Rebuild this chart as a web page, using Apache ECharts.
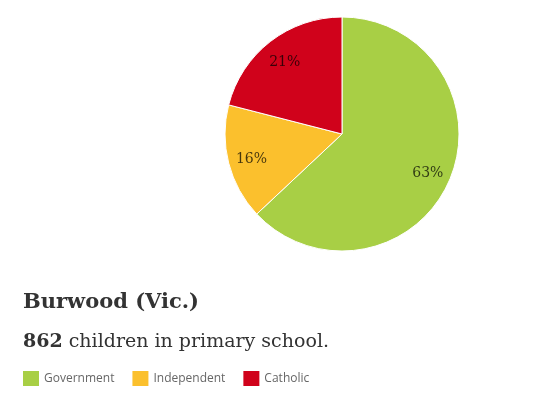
<!DOCTYPE html>
<html>
<head>
<meta charset="utf-8">
<script src="https://cdn.jsdelivr.net/npm/echarts@6/dist/echarts.min.js"></script>
<style>
html,body{margin:0;padding:0;background:#fff;}
#chart{width:554px;height:397px;}
</style>
</head>
<body>
<div id="chart"></div>
<script>
const categories = ['Government', 'Independent', 'Catholic'];
const shares = [63, 16, 21];
const colors = ['#a8cf45', '#fbc02d', '#d0021b'];
const titleText = 'Burwood (Vic.)';
const childCount = 862;
const subtitleRest = ' children in primary school.';

const pieData = categories.map((c, i) => ({ name: c, value: shares[i], itemStyle: { color: colors[i] } }));

const chart = echarts.init(document.getElementById('chart'), null, { renderer: 'canvas' });
chart.setOption({
  animation: false,
  backgroundColor: '#fff',
  title: [
    {
      text: titleText,
      left: 23,
      top: 292,
      padding: 0,
      textStyle: { fontFamily: 'DejaVu Serif', fontWeight: 'bold', fontSize: 21, color: '#333' }
    },
    {
      text: '{b|' + childCount + '}{r|' + subtitleRest + '}',
      left: 23,
      top: 333,
      padding: 0,
      textStyle: {
        fontWeight: 'normal',
        rich: {
          b: { fontFamily: 'DejaVu Serif', fontWeight: 'bold', fontSize: 19, color: '#333' },
          r: { fontFamily: 'DejaVu Serif', fontWeight: 'normal', fontSize: 19, color: '#333' }
        }
      }
    }
  ],
  legend: {
    data: categories,
    left: 23,
    top: 371,
    padding: 0,
    icon: 'rect',
    itemWidth: 16,
    itemHeight: 15,
    itemGap: 18,
    itemStyle: { borderWidth: 0 },
    textStyle: { fontFamily: 'Open Sans', fontSize: 12, color: '#666' },
    selectedMode: false
  },
  series: [
    {
      type: 'pie',
      center: [342, 134],
      radius: 117,
      startAngle: 90,
      clockwise: true,
      silent: true,
      itemStyle: { borderColor: '#fff', borderWidth: 1 },
      label: { show: false },
      labelLine: { show: false },
      data: pieData
    },
    {
      type: 'pie',
      center: [342, 136],
      radius: [64, 117],
      startAngle: 90,
      clockwise: true,
      silent: true,
      itemStyle: { color: 'rgba(0,0,0,0)', borderWidth: 0 },
      label: {
        show: true,
        position: 'inside',
        formatter: p => p.value + '%',
        fontFamily: 'DejaVu Serif',
        fontSize: 14,
        color: 'rgba(0,0,0,0.72)'
      },
      labelLine: { show: false },
      data: categories.map((c, i) => ({ name: c, value: shares[i] }))
    }
  ]
});
</script>
</body>
</html>
